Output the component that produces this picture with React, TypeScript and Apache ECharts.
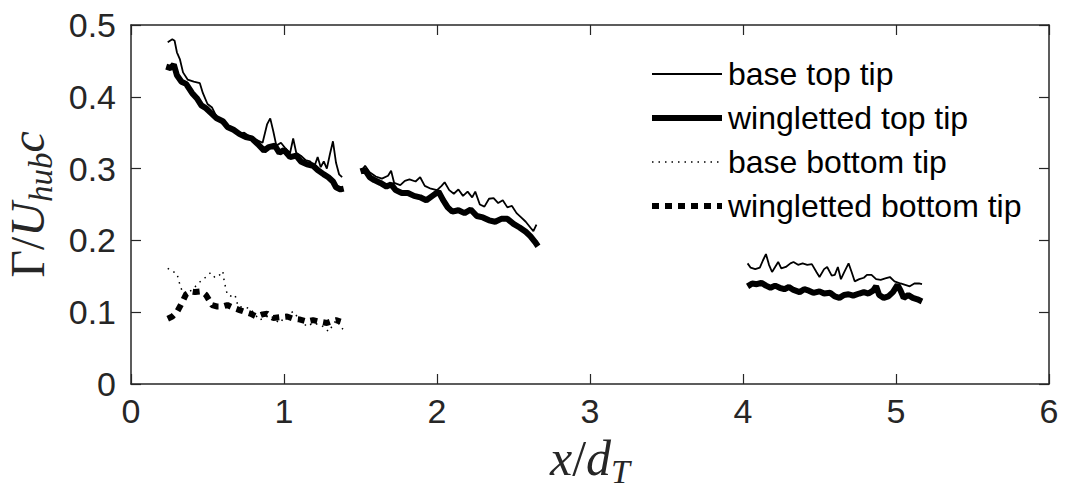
import React, { useEffect, useRef } from "react";
import * as echarts from "echarts";

const xTicks = [0, 1, 2, 3, 4, 5, 6];
const yTicks = [0, 0.1, 0.2, 0.3, 0.4, 0.5];
const seriesNames = ["base top tip", "wingletted top tip", "base bottom tip", "wingletted bottom tip"];

const baseTop1 = [[0.24,0.476],[0.27,0.48],[0.285,0.478],[0.30,0.462],[0.32,0.452],[0.34,0.434],[0.37,0.424],[0.41,0.421],[0.45,0.419],[0.47,0.405],[0.50,0.39],[0.53,0.385],[0.56,0.372],[0.60,0.362],[0.64,0.356],[0.68,0.354],[0.71,0.348],[0.74,0.35],[0.78,0.344],[0.82,0.34],[0.86,0.336],[0.89,0.362],[0.91,0.37],[0.93,0.352],[0.95,0.332],[0.98,0.336],[1.01,0.328],[1.04,0.322],[1.06,0.342],[1.08,0.322],[1.11,0.318],[1.14,0.312],[1.17,0.31],[1.20,0.304],[1.22,0.316],[1.24,0.302],[1.26,0.31],[1.28,0.3],[1.30,0.32],[1.32,0.338],[1.34,0.308],[1.36,0.292],[1.38,0.288]];
const baseTop2 = [[1.51,0.298],[1.53,0.304],[1.56,0.295],[1.60,0.289],[1.64,0.286],[1.68,0.29],[1.70,0.297],[1.72,0.28],[1.76,0.277],[1.79,0.283],[1.82,0.285],[1.86,0.282],[1.89,0.288],[1.92,0.276],[1.96,0.272],[2.0,0.27],[2.03,0.276],[2.05,0.281],[2.08,0.27],[2.11,0.265],[2.14,0.271],[2.17,0.262],[2.20,0.268],[2.23,0.26],[2.25,0.268],[2.28,0.25],[2.31,0.247],[2.34,0.258],[2.37,0.259],[2.40,0.252],[2.43,0.256],[2.46,0.246],[2.49,0.248],[2.52,0.238],[2.55,0.232],[2.58,0.226],[2.61,0.218],[2.63,0.213],[2.65,0.222]];
const baseTop3 = [[4.03,0.168],[4.05,0.162],[4.08,0.16],[4.11,0.162],[4.13,0.172],[4.15,0.181],[4.17,0.166],[4.19,0.156],[4.21,0.163],[4.23,0.17],[4.25,0.161],[4.28,0.163],[4.31,0.168],[4.33,0.17],[4.36,0.166],[4.39,0.168],[4.42,0.166],[4.45,0.167],[4.48,0.156],[4.50,0.149],[4.53,0.16],[4.55,0.163],[4.58,0.151],[4.60,0.152],[4.62,0.163],[4.64,0.146],[4.66,0.155],[4.69,0.168],[4.71,0.156],[4.73,0.143],[4.76,0.146],[4.79,0.148],[4.81,0.152],[4.84,0.152],[4.87,0.146],[4.90,0.145],[4.93,0.147],[4.96,0.149],[4.99,0.143],[5.03,0.14],[5.06,0.138],[5.09,0.136],[5.12,0.14],[5.15,0.14],[5.17,0.139]];

const wingTop1 = [[0.23,0.442],[0.26,0.44],[0.28,0.445],[0.30,0.43],[0.33,0.421],[0.36,0.418],[0.40,0.405],[0.43,0.398],[0.46,0.388],[0.49,0.384],[0.52,0.378],[0.56,0.37],[0.60,0.366],[0.63,0.358],[0.67,0.354],[0.71,0.348],[0.75,0.344],[0.79,0.342],[0.83,0.334],[0.87,0.325],[0.90,0.33],[0.94,0.332],[0.97,0.322],[1.00,0.326],[1.04,0.316],[1.08,0.318],[1.11,0.31],[1.15,0.306],[1.19,0.304],[1.22,0.298],[1.26,0.292],[1.29,0.288],[1.32,0.282],[1.34,0.274],[1.37,0.271],[1.39,0.272]];
const wingTop2 = [[1.50,0.296],[1.53,0.298],[1.56,0.288],[1.59,0.284],[1.63,0.28],[1.67,0.275],[1.70,0.278],[1.73,0.27],[1.77,0.266],[1.81,0.266],[1.85,0.262],[1.89,0.26],[1.93,0.256],[1.97,0.262],[2.01,0.268],[2.04,0.256],[2.07,0.246],[2.10,0.24],[2.14,0.242],[2.18,0.238],[2.22,0.243],[2.26,0.234],[2.30,0.232],[2.34,0.228],[2.38,0.226],[2.42,0.23],[2.46,0.23],[2.50,0.223],[2.54,0.218],[2.58,0.212],[2.61,0.206],[2.64,0.198],[2.66,0.192]];
const wingTop3 = [[4.03,0.136],[4.06,0.14],[4.09,0.139],[4.12,0.141],[4.15,0.137],[4.18,0.134],[4.21,0.137],[4.24,0.134],[4.27,0.132],[4.30,0.135],[4.33,0.131],[4.37,0.128],[4.40,0.132],[4.43,0.13],[4.46,0.127],[4.50,0.129],[4.53,0.126],[4.57,0.127],[4.60,0.122],[4.63,0.12],[4.66,0.124],[4.69,0.125],[4.72,0.123],[4.76,0.126],[4.79,0.128],[4.82,0.126],[4.85,0.13],[4.87,0.136],[4.89,0.124],[4.92,0.12],[4.95,0.122],[4.98,0.128],[5.01,0.138],[5.03,0.13],[5.05,0.12],[5.08,0.124],[5.11,0.12],[5.14,0.118],[5.17,0.115]];

const baseBottom = [[0.24,0.161],[0.27,0.157],[0.30,0.154],[0.32,0.138],[0.34,0.126],[0.37,0.128],[0.40,0.131],[0.43,0.138],[0.46,0.144],[0.49,0.149],[0.52,0.155],[0.55,0.148],[0.58,0.152],[0.60,0.157],[0.61,0.142],[0.63,0.124],[0.66,0.122],[0.68,0.124],[0.70,0.108],[0.74,0.107],[0.78,0.105],[0.81,0.097],[0.84,0.089],[0.87,0.092],[0.91,0.096],[0.94,0.09],[0.97,0.085],[1.01,0.094],[1.06,0.101],[1.10,0.09],[1.15,0.08],[1.19,0.085],[1.24,0.082],[1.27,0.078],[1.29,0.073],[1.32,0.082],[1.34,0.089],[1.37,0.08],[1.39,0.075]];
const wingBottom = [[0.24,0.091],[0.27,0.094],[0.30,0.1],[0.33,0.112],[0.36,0.125],[0.39,0.129],[0.42,0.128],[0.46,0.129],[0.49,0.124],[0.53,0.11],[0.56,0.108],[0.60,0.108],[0.63,0.11],[0.67,0.106],[0.71,0.103],[0.75,0.1],[0.78,0.098],[0.82,0.094],[0.86,0.097],[0.89,0.098],[0.93,0.092],[0.97,0.093],[1.02,0.094],[1.06,0.091],[1.10,0.09],[1.15,0.087],[1.19,0.089],[1.23,0.087],[1.28,0.085],[1.32,0.088],[1.34,0.089],[1.37,0.087]];

const joinSegments = (...segs: number[][][]) => {
  const out: any[] = [];
  segs.forEach((s, i) => {
    if (i > 0) out.push([s[0][0] - 0.05, "-"]);
    s.forEach((p) => out.push(p));
  });
  return out;
};

const AX = "#262626";
const FONT = "'Liberation Sans', Arial, sans-serif";
const MATH = "'Liberation Serif', 'Times New Roman', serif";

const styles = [
  { width: 1.8, type: "solid" as any },
  { width: 6, type: "solid" as any },
  { width: 1.5, type: [1.5, 5] as any },
  { width: 6, type: [7, 6] as any },
];

export default function App() {
  const ref = useRef<HTMLDivElement>(null);
  useEffect(() => {
    if (!ref.current) return;
    const chart = echarts.init(ref.current, undefined, { renderer: "svg" });
    const axisCommon = {
      type: "value" as const,
      axisLine: { show: true, onZero: false, lineStyle: { color: AX, width: 1.5 } },
      axisTick: { show: true, inside: true, length: 10, lineStyle: { color: AX, width: 1.2 } },
      splitLine: { show: false },
    };
    const legendRowsY = [74, 118, 162, 206];
    const legendGraphics: any[] = [];
    seriesNames.forEach((n, i) => {
      legendGraphics.push({
        type: "line",
        shape: { x1: 652, y1: legendRowsY[i], x2: 722, y2: legendRowsY[i] },
        style: { stroke: "#000", lineWidth: styles[i].width, lineDash: styles[i].type === "solid" ? null : styles[i].type },
      });
      legendGraphics.push({
        type: "text",
        x: 728,
        y: legendRowsY[i],
        style: { text: n, fontFamily: FONT, fontSize: 32, fill: "#000", align: "left", verticalAlign: "middle" },
      });
    });
    const mathRich = (fs: number) => ({
      i: { fontFamily: MATH, fontStyle: "italic", fontSize: fs, color: AX, lineHeight: 44, verticalAlign: "bottom" },
      n: { fontFamily: MATH, fontSize: fs, color: AX, lineHeight: 44, verticalAlign: "bottom" },
      s: { fontFamily: MATH, fontStyle: "italic", fontSize: Math.round(fs * 0.68), color: AX, lineHeight: 26, verticalAlign: "bottom", padding: [0, 0, -6, 0] },
    });
    chart.setOption({
      animation: false,
      backgroundColor: "#ffffff",
      grid: { left: 131, right: 16, top: 25, bottom: 106, containLabel: false, outerBoundsMode: "none" },
      graphic: legendGraphics,
      xAxis: [
        {
          ...axisCommon,
          position: "bottom",
          min: 0,
          max: 6,
          interval: 1,
          axisLabel: { color: AX, fontFamily: FONT, fontSize: 34, margin: 10 },
          name: "{i|x}{n|/}{i|d}{s|T}",
          nameLocation: "middle",
          nameGap: 52,
          nameTextStyle: { rich: mathRich(50) },
        },
        { ...axisCommon, position: "top", min: 0, max: 6, interval: 1, axisLabel: { show: false } },
      ],
      yAxis: [
        {
          ...axisCommon,
          position: "left",
          min: 0,
          max: 0.5,
          interval: 0.1,
          axisLabel: { color: AX, fontFamily: FONT, fontSize: 34, margin: 15, formatter: (v: number) => String(Math.round(v * 10) / 10) },
          name: "{n|Γ/}{i|U}{s|hub}{i|c}",
          nameLocation: "middle",
          nameGap: 80,
          nameRotate: 90,
          nameTextStyle: { rich: mathRich(48) },
        },
        { ...axisCommon, position: "right", min: 0, max: 0.5, interval: 0.1, axisLabel: { show: false } },
      ],
      series: [
        {
          name: seriesNames[0], type: "line", symbol: "none", connectNulls: false,
          lineStyle: { color: "#000", width: styles[0].width }, itemStyle: { color: "#000" },
          data: joinSegments(baseTop1, baseTop2, baseTop3),
        },
        {
          name: seriesNames[1], type: "line", symbol: "none", connectNulls: false,
          lineStyle: { color: "#000", width: styles[1].width }, itemStyle: { color: "#000" },
          data: joinSegments(wingTop1, wingTop2, wingTop3),
        },
        {
          name: seriesNames[2], type: "line", symbol: "none",
          lineStyle: { color: "#000", width: styles[2].width, type: styles[2].type }, itemStyle: { color: "#000" },
          data: baseBottom,
        },
        {
          name: seriesNames[3], type: "line", symbol: "none",
          lineStyle: { color: "#000", width: styles[3].width, type: styles[3].type }, itemStyle: { color: "#000" },
          data: wingBottom,
        },
      ],
    });
    return () => chart.dispose();
  }, []);
  return <div ref={ref} style={{ width: 1065, height: 490, position: "absolute", left: 0, top: 0 }} />;
}
